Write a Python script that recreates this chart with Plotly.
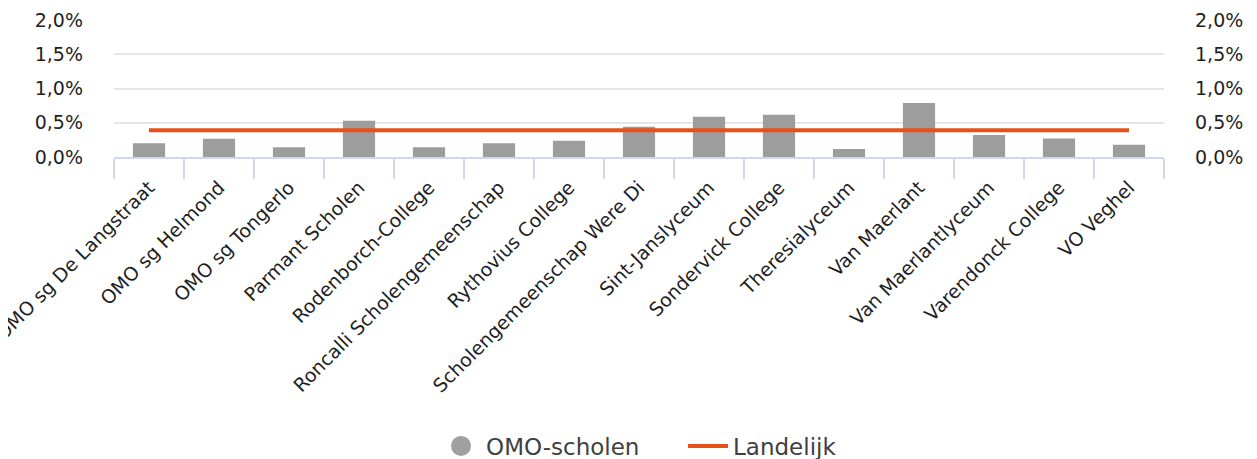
import plotly.graph_objects as go

categories = ["OMO sg De Langstraat", "OMO sg Helmond", "OMO sg Tongerlo", "Parmant Scholen",
              "Rodenborch-College", "Roncalli Scholengemeenschap", "Rythovius College",
              "Scholengemeenschap Were Di", "Sint-Janslyceum", "Sondervick College",
              "Theresialyceum", "Van Maerlant", "Van Maerlantlyceum", "Varendonck College", "VO Veghel"]
omo_values = [0.0020, 0.00266, 0.00143, 0.0053, 0.00143, 0.0020, 0.00236, 0.0044,
              0.00586, 0.00616, 0.00118, 0.0079, 0.0032, 0.0027, 0.0018]
landelijk_values = [0.0039] * len(categories)

BAR = "#9D9D9D"
ORANGE = "#E8501A"
TXT = "#1F1F1F"
FONT = "DejaVu Sans"

fig = go.Figure()
fig.add_trace(go.Bar(x=categories, y=omo_values, name="OMO-scholen",
                     marker=dict(color=BAR, line=dict(width=0)), showlegend=False))
fig.add_trace(go.Scatter(x=[None], y=[None], mode="markers", name="OMO-scholen",
                         marker=dict(symbol="circle", size=16, color="#A0A0A0",
                                     line=dict(color="#A0A0A0", width=4))))
fig.add_trace(go.Scatter(x=categories, y=landelijk_values, mode="lines", name="Landelijk",
                         line=dict(color=ORANGE, width=4), yaxis="y2"))

axis_common = dict(range=[0, 0.02], dtick=0.005, tickformat=".1%",
                   tickfont=dict(family=FONT, size=19, color=TXT), fixedrange=True)

fig.update_layout(
    width=1257, height=459,
    margin=dict(l=106, r=101, t=12, b=310),
    paper_bgcolor="white", plot_bgcolor="white",
    separators=",.",
    bargap=0.54,
    font=dict(family=FONT, color=TXT),
    xaxis=dict(tickangle=-45, tickfont=dict(family=FONT, size=19, color=TXT),
               showline=True, linecolor="#CFD8EC", linewidth=2,
               ticks="outside", tickson="boundaries", ticklen=20, tickcolor="#CFD8EC", tickwidth=2,
               ticklabelstandoff=10, showgrid=False, automargin=False),
    yaxis=dict(**axis_common, showgrid=True, gridcolor="#E5E5E5", gridwidth=2, zeroline=False,
               ticklabelstandoff=30, automargin=False),
    yaxis2=dict(**axis_common, overlaying="y", side="right", showgrid=False, zeroline=False,
                ticklabelstandoff=30, automargin=False),
    legend=dict(orientation="h", x=0.3067, y=0.0458, xanchor="left", yanchor="middle",
                yref="container",
                font=dict(family=FONT, size=23, color="#404040"), itemwidth=40,
                entrywidth=192, traceorder="normal"),
)

fig.write_html("out.html")
